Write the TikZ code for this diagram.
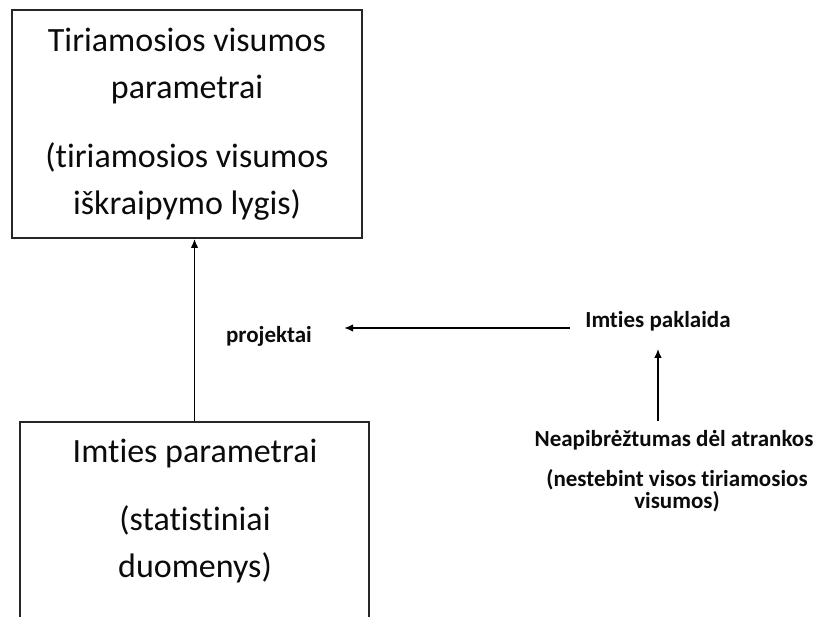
\documentclass[tikz,border=0pt]{standalone}
\usepackage{fontspec}
\setmainfont{Carlito}[Ligatures=NoCommon]
\usepackage{xcolor}
\usetikzlibrary{arrows.meta}
\definecolor{remas}{HTML}{262626}
\definecolor{tekstas}{HTML}{0B0B0B}

\begin{document}
\begin{tikzpicture}[
  x=1pt,y=-1pt,
  dezute/.style={draw=remas,line width=1.8pt,inner sep=0pt},
  didelis/.style={font=\fontsize{34}{47}\selectfont,text=tekstas,align=center,inner sep=0pt,anchor=north},
  mazas/.style={font=\fontsize{23}{22}\selectfont\bfseries,text=tekstas,align=center,inner sep=0pt},
  strele/.style={-{Latex[length=9pt,width=7.5pt]},line width=1.6pt,black}]
\useasboundingbox (0,0) rectangle (825,617);
\clip (0,0) rectangle (825,617);
% dezutes
\node[dezute,minimum width=350pt,minimum height=228pt] (tiriamoji) at (187,124) {};
\node[dezute,minimum width=349pt,minimum height=276pt] (imtis) at (194.5,560) {};
\node[didelis] (tiriamojiT) at (187,18) {\strut Tiriamosios visumos\\parametrai\\[22pt](tiriamosios visumos\\iškraipymo lygis)};
\node[didelis] (imtisT) at (195,429) {\strut Imties parametrai\\[21pt](statistiniai\\duomenys)};
% uzrasai
\node[mazas,anchor=base] (projektai) at (269,343) {projektai};
\node[mazas,anchor=base] (paklaida) at (658,328) {Imties paklaida};
\node[mazas,anchor=base] (atranka) at (674,447) {Neapibrėžtumas dėl atrankos};
\node[mazas,anchor=north] (pastaba) at (677,469) {(nestebint visos tiriamosios\\visumos)};
% rodykles
\draw[strele] (imtis.north) -- (imtis.north |- tiriamoji.south);
\draw[strele,shorten <=15pt,shorten >=32pt] (paklaida.base west) -- (projektai.east |- paklaida.base west);
\draw[strele,shorten <=10pt,shorten >=17pt] (atranka.north -| paklaida.south) -- (paklaida.south);
\end{tikzpicture}
\end{document}
